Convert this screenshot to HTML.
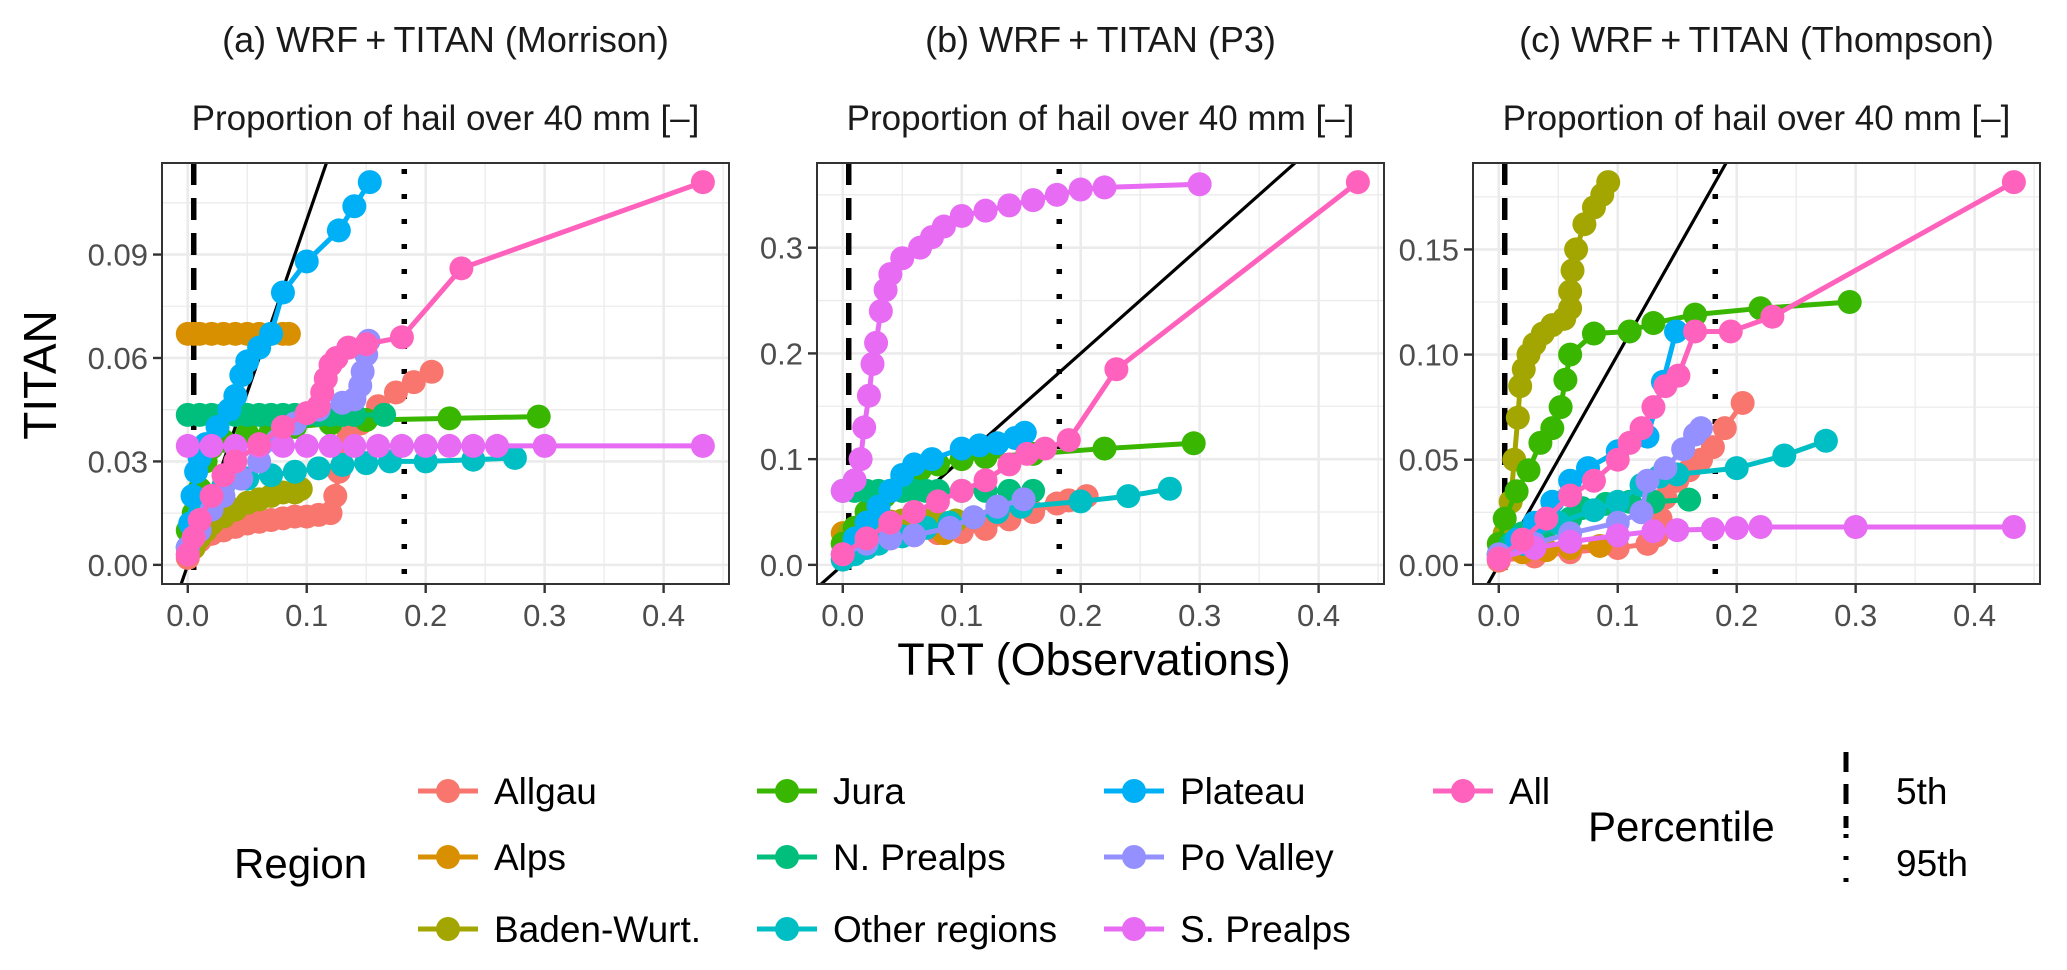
<!DOCTYPE html>
<html><head><meta charset="utf-8"><style>
html,body{margin:0;padding:0;background:#fff;width:2067px;height:970px;overflow:hidden;}
svg{display:block;font-family:"Liberation Sans",sans-serif;}
</style></head><body>
<svg id="chart" width="2067" height="970" viewBox="0 0 2067 970" xmlns="http://www.w3.org/2000/svg">
<rect width="2067" height="970" fill="#fff"/>
<text x="1094" y="675" font-size="45" text-anchor="middle" fill="#000">TRT (Observations)</text>
<text transform="translate(56,375) rotate(-90)" font-size="46" text-anchor="middle" fill="#000">TITAN</text>
<g id="legend"></g>
</svg>
<script>
const regions = ["Allgau","Alps","Baden-Wurt.","Jura","N. Prealps","Other regions","Plateau","Po Valley","S. Prealps","All"];
const colors = ["#F8766D","#D89000","#A3A500","#39B600","#00BF7D","#00BFC4","#00B0F6","#9590FF","#E76BF3","#FF62BC"];
const panelTitles = ["(a) WRF\u2009+\u2009TITAN (Morrison)","(b) WRF\u2009+\u2009TITAN (P3)","(c) WRF\u2009+\u2009TITAN (Thompson)"];
const xTicks = [0.0,0.1,0.2,0.3,0.4];
const xTickLabels = ["0.0","0.1","0.2","0.3","0.4"];
const yTicksA = [0.00,0.03,0.06,0.09];
const yTickLabelsA = ["0.00","0.03","0.06","0.09"];
const yTicksB = [0.0,0.1,0.2,0.3];
const yTickLabelsB = ["0.0","0.1","0.2","0.3"];
const yTicksC = [0.00,0.05,0.10,0.15];
const yTickLabelsC = ["0.00","0.05","0.10","0.15"];
const pct5 = 0.005;
const pct95 = 0.182;
const xMaxData = 0.4333;
const yMaxA = 0.111, yMaxB = 0.362, yMaxC = 0.182;

const morrisonData = [
 [[0,0.002],[0.005,0.005],[0.01,0.007],[0.02,0.009],[0.03,0.010],[0.04,0.011],[0.05,0.012],[0.06,0.0125],[0.07,0.013],[0.08,0.0135],[0.09,0.014],[0.1,0.014],[0.11,0.0145],[0.12,0.015],[0.124,0.02],[0.127,0.027],[0.13,0.033],[0.135,0.037],[0.145,0.041],[0.16,0.046],[0.175,0.05],[0.19,0.053],[0.205,0.056]],
 [[0,0.067],[0.005,0.067],[0.01,0.067],[0.02,0.067],[0.03,0.067],[0.04,0.067],[0.05,0.067],[0.06,0.067],[0.07,0.067],[0.08,0.067],[0.085,0.067]],
 [[0,0.003],[0.005,0.005],[0.01,0.008],[0.015,0.010],[0.02,0.012],[0.03,0.014],[0.04,0.016],[0.05,0.018],[0.06,0.019],[0.07,0.020],[0.08,0.021],[0.09,0.021],[0.095,0.022]],
 [[0,0.010],[0.005,0.015],[0.01,0.022],[0.015,0.030],[0.02,0.034],[0.03,0.036],[0.05,0.038],[0.07,0.039],[0.09,0.040],[0.12,0.041],[0.15,0.042],[0.22,0.0425],[0.295,0.043]],
 [[0,0.0435],[0.01,0.0435],[0.02,0.0435],[0.03,0.0435],[0.04,0.0435],[0.05,0.0435],[0.06,0.0435],[0.07,0.0435],[0.08,0.0435],[0.09,0.0435],[0.1,0.0435],[0.11,0.0435],[0.12,0.0435],[0.13,0.0435],[0.14,0.0435],[0.165,0.0435]],
 [[0,0.005],[0.005,0.010],[0.01,0.015],[0.02,0.020],[0.03,0.023],[0.05,0.025],[0.07,0.026],[0.09,0.027],[0.11,0.028],[0.13,0.029],[0.15,0.0295],[0.17,0.030],[0.2,0.030],[0.24,0.0305],[0.275,0.031]],
 [[0,0.005],[0.002,0.012],[0.004,0.020],[0.007,0.027],[0.01,0.031],[0.015,0.035],[0.025,0.040],[0.035,0.045],[0.04,0.049],[0.045,0.055],[0.05,0.059],[0.06,0.063],[0.07,0.067],[0.08,0.079],[0.1,0.088],[0.127,0.097],[0.14,0.104],[0.153,0.111]],
 [[0,0.005],[0.01,0.010],[0.02,0.016],[0.03,0.020],[0.045,0.025],[0.06,0.030],[0.075,0.036],[0.09,0.041],[0.11,0.045],[0.13,0.047],[0.14,0.048],[0.145,0.052],[0.147,0.056],[0.15,0.061],[0.152,0.065]],
 [[0,0.0345],[0.02,0.0345],[0.04,0.0345],[0.06,0.0345],[0.08,0.0345],[0.1,0.0345],[0.12,0.0345],[0.14,0.0345],[0.16,0.0345],[0.18,0.0345],[0.2,0.0345],[0.22,0.0345],[0.24,0.0345],[0.26,0.0345],[0.3,0.0345],[0.433,0.0345]],
 [[0,0.003],[0.005,0.008],[0.01,0.013],[0.02,0.020],[0.03,0.026],[0.04,0.030],[0.06,0.035],[0.08,0.040],[0.1,0.044],[0.11,0.046],[0.113,0.050],[0.116,0.054],[0.12,0.058],[0.125,0.060],[0.135,0.063],[0.15,0.064],[0.18,0.066],[0.23,0.086],[0.433,0.111]]
];
const p3Data = [
 [[0,0.005],[0.01,0.012],[0.02,0.018],[0.04,0.025],[0.06,0.028],[0.08,0.030],[0.1,0.031],[0.12,0.034],[0.14,0.043],[0.16,0.050],[0.18,0.058],[0.19,0.061],[0.205,0.065]],
 [[0,0.03],[0.02,0.03],[0.04,0.03],[0.06,0.03],[0.085,0.03]],
 [[0,0.02],[0.005,0.03],[0.01,0.035],[0.02,0.038],[0.03,0.040],[0.04,0.041],[0.05,0.042],[0.06,0.042],[0.07,0.042],[0.08,0.042],[0.095,0.042]],
 [[0,0.02],[0.01,0.035],[0.02,0.05],[0.035,0.065],[0.05,0.08],[0.065,0.09],[0.08,0.095],[0.1,0.1],[0.12,0.102],[0.16,0.105],[0.22,0.11],[0.295,0.115]],
 [[0,0.07],[0.01,0.07],[0.02,0.07],[0.03,0.07],[0.04,0.07],[0.05,0.07],[0.06,0.07],[0.07,0.07],[0.08,0.07],[0.1,0.07],[0.12,0.07],[0.14,0.07],[0.16,0.07]],
 [[0,0.005],[0.01,0.01],[0.02,0.016],[0.03,0.02],[0.05,0.027],[0.07,0.035],[0.09,0.04],[0.11,0.045],[0.13,0.05],[0.15,0.055],[0.2,0.06],[0.24,0.065],[0.275,0.072]],
 [[0,0.01],[0.01,0.025],[0.02,0.04],[0.03,0.055],[0.04,0.07],[0.05,0.085],[0.06,0.095],[0.075,0.1],[0.1,0.11],[0.115,0.113],[0.13,0.115],[0.145,0.12],[0.153,0.125]],
 [[0,0.01],[0.02,0.02],[0.04,0.025],[0.06,0.028],[0.09,0.035],[0.11,0.045],[0.13,0.055],[0.152,0.062]],
 [[0,0.07],[0.01,0.08],[0.015,0.10],[0.018,0.13],[0.022,0.16],[0.025,0.19],[0.028,0.21],[0.032,0.24],[0.036,0.26],[0.04,0.275],[0.05,0.29],[0.065,0.30],[0.075,0.31],[0.085,0.32],[0.1,0.33],[0.12,0.335],[0.14,0.34],[0.16,0.345],[0.18,0.35],[0.2,0.355],[0.22,0.357],[0.3,0.36]],
 [[0,0.01],[0.02,0.025],[0.04,0.04],[0.06,0.05],[0.08,0.06],[0.1,0.07],[0.12,0.08],[0.14,0.095],[0.155,0.105],[0.17,0.11],[0.19,0.118],[0.23,0.185],[0.433,0.362]]
];
const thompsonData = [
 [[0,0.002],[0.03,0.004],[0.06,0.006],[0.1,0.008],[0.125,0.010],[0.133,0.014],[0.136,0.022],[0.14,0.032],[0.15,0.040],[0.16,0.045],[0.17,0.050],[0.18,0.056],[0.19,0.065],[0.205,0.077]],
 [[0,0.005],[0.02,0.006],[0.04,0.007],[0.06,0.008],[0.085,0.009]],
 [[0,0.005],[0.005,0.015],[0.01,0.03],[0.013,0.05],[0.016,0.07],[0.018,0.085],[0.021,0.093],[0.025,0.1],[0.03,0.105],[0.037,0.11],[0.045,0.114],[0.055,0.117],[0.06,0.122],[0.06,0.13],[0.062,0.14],[0.065,0.15],[0.072,0.162],[0.08,0.17],[0.087,0.176],[0.092,0.182]],
 [[0,0.01],[0.005,0.022],[0.015,0.035],[0.025,0.045],[0.035,0.058],[0.045,0.065],[0.052,0.075],[0.056,0.088],[0.06,0.1],[0.08,0.11],[0.11,0.111],[0.13,0.115],[0.165,0.119],[0.22,0.122],[0.295,0.125]],
 [[0,0.005],[0.01,0.01],[0.02,0.015],[0.04,0.018],[0.06,0.022],[0.07,0.027],[0.09,0.029],[0.11,0.03],[0.13,0.03],[0.16,0.031]],
 [[0,0.005],[0.02,0.01],[0.05,0.02],[0.08,0.026],[0.1,0.03],[0.12,0.038],[0.135,0.042],[0.15,0.043],[0.2,0.046],[0.24,0.052],[0.275,0.059]],
 [[0,0.005],[0.015,0.012],[0.03,0.02],[0.045,0.03],[0.06,0.04],[0.075,0.046],[0.1,0.054],[0.125,0.061],[0.138,0.087],[0.149,0.111]],
 [[0,0.005],[0.03,0.01],[0.06,0.015],[0.1,0.02],[0.12,0.025],[0.125,0.04],[0.14,0.046],[0.155,0.055],[0.165,0.062],[0.17,0.065]],
 [[0,0.003],[0.03,0.008],[0.06,0.011],[0.1,0.014],[0.13,0.016],[0.15,0.0165],[0.18,0.017],[0.2,0.0175],[0.22,0.018],[0.3,0.018],[0.433,0.018]],
 [[0,0.003],[0.02,0.012],[0.04,0.022],[0.06,0.033],[0.08,0.04],[0.1,0.05],[0.11,0.058],[0.12,0.065],[0.13,0.075],[0.14,0.085],[0.151,0.09],[0.165,0.111],[0.195,0.111],[0.23,0.118],[0.433,0.182]]
];

const NS = "http://www.w3.org/2000/svg";
const svg = document.getElementById("chart");
function mk(tag, attrs, parent){
  const e = document.createElementNS(NS, tag);
  for (const k in attrs) e.setAttribute(k, attrs[k]);
  (parent||svg).appendChild(e);
  return e;
}
const panelLefts = [162, 817, 1473];
const PW = 567, PT = 163, PB = 584;
const R_PT = 12;
const panels = [
  {data: morrisonData, yMax: yMaxA, ticks: yTicksA, labels: yTickLabelsA, key: "a"},
  {data: p3Data, yMax: yMaxB, ticks: yTicksB, labels: yTickLabelsB, key: "b"},
  {data: thompsonData, yMax: yMaxC, ticks: yTicksC, labels: yTickLabelsC, key: "c"}
];
const xExp = xMaxData * 0.05;
const xLo = -xExp, xHi = xMaxData + xExp;

panels.forEach((p, pi) => {
  const L = panelLefts[pi], R = L + PW;
  const yExp = p.yMax * 0.05, yLo = -yExp, yHi = p.yMax + yExp;
  const xs = v => L + (v - xLo) / (xHi - xLo) * PW;
  const ys = v => PB - (v - yLo) / (yHi - yLo) * (PB - PT);
  const g = mk("g", {});
  
  
  const t1 = mk("text", {x: L + PW/2, y: 52, "font-size": 36, "text-anchor": "middle", fill: "#1a1a1a"}, g);
  t1.textContent = panelTitles[pi];
  
  
  const t2 = mk("text", {x: L + PW/2, y: 130, "font-size": 35, "text-anchor": "middle", fill: "#1a1a1a"}, g);
  t2.textContent = "Proportion of hail over 40 mm [\u2013]";
  
  
  const clipId = "clip" + pi;
  const cp = mk("clipPath", {id: clipId}, g);
  mk("rect", {x: L, y: PT, width: PW, height: PB - PT}, cp);
  const plot = mk("g", {"clip-path": "url(#" + clipId + ")"}, g);
  for (let i = 0; i < xTicks.length; i++) {
    const v = xTicks[i] + 0.05;
    if (v < xHi) mk("line", {x1: xs(v), x2: xs(v), y1: PT, y2: PB, stroke: "#EBEBEB", "stroke-width": 1.3}, plot);
  }
  for (let i = 0; i < p.ticks.length; i++) {
    const v = p.ticks[i] + (p.ticks[1] - p.ticks[0]) / 2;
    if (v < yHi) mk("line", {x1: L, x2: R, y1: ys(v), y2: ys(v), stroke: "#EBEBEB", "stroke-width": 1.3}, plot);
  }
  xTicks.forEach(v => mk("line", {x1: xs(v), x2: xs(v), y1: PT, y2: PB, stroke: "#EBEBEB", "stroke-width": 2.6}, plot));
  p.ticks.forEach(v => mk("line", {x1: L, x2: R, y1: ys(v), y2: ys(v), stroke: "#EBEBEB", "stroke-width": 2.6}, plot));
  const d5 = mk("line", {x1: xs(pct5), x2: xs(pct5), y1: PT, y2: PB, stroke: "#000", "stroke-width": 5.5, "stroke-dasharray": "22 13"}, plot);
  
  
  const d95 = mk("line", {x1: xs(pct95), x2: xs(pct95), y1: PT + 6, y2: PB, stroke: "#000", "stroke-width": 5.5, "stroke-dasharray": "5 20"}, plot);
  
  
  const dl = mk("line", {x1: xs(-1), y1: ys(-1), x2: xs(1), y2: ys(1), stroke: "#000", "stroke-width": 3.2}, plot);
  
  
  p.data.forEach((series, si) => {
    const sg = mk("g", {}, plot);
    
    
    mk("polyline", {points: series.map(d => xs(d[0]) + "," + ys(d[1])).join(" "), fill: "none", stroke: colors[si], "stroke-width": 5, "stroke-linejoin": "round"}, sg);
    series.forEach(d => {
      const c = mk("circle", {cx: xs(d[0]), cy: ys(d[1]), r: R_PT, fill: colors[si]}, sg);
      
      
    });
  });
  const b = mk("rect", {x: L, y: PT, width: PW, height: PB - PT, fill: "none", stroke: "#333", "stroke-width": 2}, g);
  
  
  xTicks.forEach((v, i) => {
    mk("line", {x1: xs(v), x2: xs(v), y1: PB, y2: PB + 9, stroke: "#333", "stroke-width": 2.4}, g);
    const t = mk("text", {x: xs(v), y: PB + 42, "font-size": 31, "text-anchor": "middle", fill: "#4D4D4D"}, g);
    t.textContent = xTickLabels[i];
    
    
  });
  p.ticks.forEach((v, i) => {
    mk("line", {x1: L - 9, x2: L, y1: ys(v), y2: ys(v), stroke: "#333", "stroke-width": 2.4}, g);
    const t = mk("text", {x: L - 14, y: ys(v) + 11, "font-size": 31, "text-anchor": "end", fill: "#4D4D4D"}, g);
    t.textContent = p.labels[i];
    
    
  });
});

const lg = document.getElementById("legend");
const rt = mk("text", {x: 234, y: 878, "font-size": 42, fill: "#000"}, lg);
rt.textContent = "Region";


const colX = [448, 787, 1134, 1463];
const rowY = [791, 857, 929];
regions.forEach((name, i) => {
  const col = Math.floor(i / 3), row = i % 3;
  const cx = colX[col], cy = rowY[row];
  const eg = mk("g", {}, lg);
  
  
  mk("line", {x1: cx - 30, x2: cx + 30, y1: cy, y2: cy, stroke: colors[i], "stroke-width": 5}, eg);
  mk("circle", {cx: cx, cy: cy, r: R_PT, fill: colors[i]}, eg);
  const t = mk("text", {x: cx + 46, y: cy + 13, "font-size": 37, fill: "#000"}, eg);
  t.textContent = name;
});
const pt = mk("text", {x: 1588, y: 841, "font-size": 42, fill: "#000"}, lg);
pt.textContent = "Percentile";


const k5 = mk("line", {x1: 1846, x2: 1846, y1: 752, y2: 828, stroke: "#000", "stroke-width": 5, "stroke-dasharray": "20 12"}, lg);


const k95 = mk("line", {x1: 1846, x2: 1846, y1: 834, y2: 898, stroke: "#000", "stroke-width": 5, "stroke-dasharray": "4 18"}, lg);


const l5 = mk("text", {x: 1896, y: 804, "font-size": 37, fill: "#000"}, lg);
l5.textContent = "5th";


const l95 = mk("text", {x: 1896, y: 876, "font-size": 37, fill: "#000"}, lg);
l95.textContent = "95th";


</script>
</body></html>
